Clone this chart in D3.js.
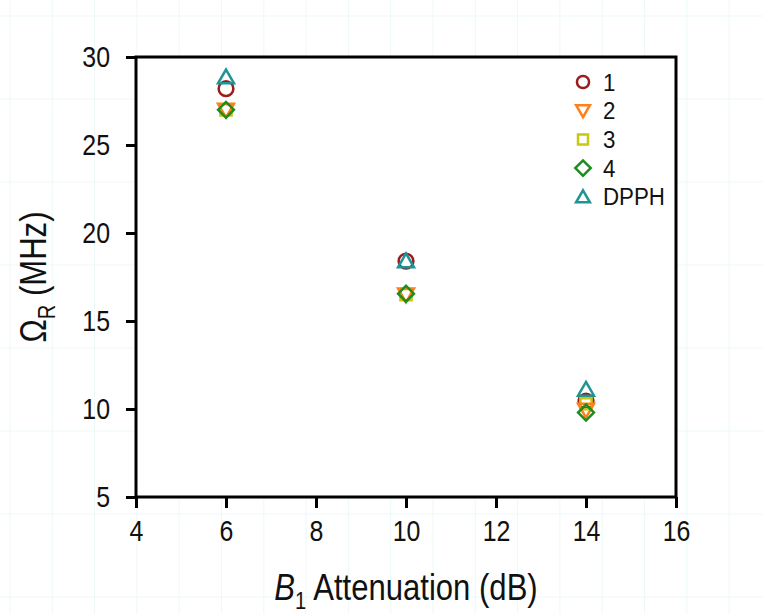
<!DOCTYPE html>
<html>
<head>
<meta charset="utf-8">
<script src="https://cdn.jsdelivr.net/npm/d3@7"></script>
<style>
  body { margin: 0; background: #fff; }
  svg { display: block; font-family: "Liberation Sans", Arial, sans-serif; }
</style>
</head>
<body>
<div id="chart"></div>
<script>
// Data
const attenuation = [6, 10, 14];
const seriesNames = ['1', '2', '3', '4', 'DPPH'];
const s1 = [28.2, 18.4, 10.45];
const s2 = [27.0, 16.5, 9.95];
const s3 = [27.0, 16.5, 10.3];
const s4 = [27.0, 16.55, 9.8];
const sDPPH = [28.85, 18.4, 11.1];
const xTicks = [4, 6, 8, 10, 12, 14, 16];
const yTicks = [5, 10, 15, 20, 25, 30];

const width = 763, height = 614;
const margin = { left: 136, right: 87, top: 57, bottom: 117 };
const narrow = 0.86; // the original lettering is a condensed sans

const svg = d3.select('#chart')
    .append('svg')
    .attr('width', width)
    .attr('height', height);

// faint page grid in the background
const bg = svg.append('g').attr('stroke', '#edf9f7').attr('stroke-width', 1);
d3.range(10, width, 42.3).forEach(x => {
    bg.append('line').attr('x1', x).attr('x2', x).attr('y1', 0).attr('y2', height);
});
d3.range(16, height, 83).forEach(y => {
    bg.append('line').attr('x1', 0).attr('x2', width).attr('y1', y).attr('y2', y);
});

const x = d3.scaleLinear().domain([4, 16]).range([margin.left, width - margin.right]);
const y = d3.scaleLinear().domain([5, 30]).range([height - margin.bottom, margin.top]);

// white plot area
svg.append('rect')
    .attr('x', x(4)).attr('y', y(30))
    .attr('width', x(16) - x(4)).attr('height', y(5) - y(30))
    .attr('fill', '#fff');

// axes
const xAxis = svg.append('g')
    .attr('transform', `translate(0,${y(5)})`)
    .call(d3.axisBottom(x).tickValues(xTicks).tickSize(11).tickPadding(12).tickFormat(d3.format('d')));
const yAxis = svg.append('g')
    .attr('transform', `translate(${x(4)},0)`)
    .call(d3.axisLeft(y).tickValues(yTicks).tickSize(10).tickPadding(16).tickFormat(d3.format('d')));

[xAxis, yAxis].forEach(a => {
    a.select('.domain').remove();
    a.selectAll('.tick line').attr('stroke', '#000').attr('stroke-width', 3);
    a.selectAll('.tick text')
        .attr('fill', '#111')
        .attr('font-size', 29)
        .attr('font-family', '"Liberation Sans", Arial, sans-serif')
        .attr('transform', `scale(${narrow},1)`);
});
yAxis.selectAll('.tick text').attr('x', -26 / narrow);

// frame
svg.append('rect')
    .attr('x', x(4)).attr('y', y(30))
    .attr('width', x(16) - x(4)).attr('height', y(5) - y(30))
    .attr('fill', 'none')
    .attr('stroke', '#000')
    .attr('stroke-width', 3);

// marker definitions
const styles = {
    '1':    { color: '#9a1c1c', shape: d3.symbolCircle, size: 170, rot: 0, leg: 0.68 },
    '2':    { color: '#ff8018', shape: d3.symbolTriangle, size: 110, rot: 180, leg: 0.75 },
    '3':    { color: '#c8c810', shape: d3.symbolSquare, size: 125, rot: 0, leg: 0.8 },
    '4':    { color: '#1e8c1e', shape: d3.symbolSquare, size: 125, rot: 45, leg: 0.95 },
    'DPPH': { color: '#1f9494', shape: d3.symbolTriangle, size: 110, rot: 0, leg: 0.75 }
};
const seriesValues = { '1': s1, '2': s2, '3': s3, '4': s4, 'DPPH': sDPPH };

// draw order: 1, DPPH over 1, then 3, 2, 4
const drawOrder = ['1', 'DPPH', '3', '2', '4'];
drawOrder.forEach(name => {
    const st = styles[name];
    const sym = d3.symbol().type(st.shape).size(st.size);
    svg.append('g').selectAll('path')
        .data(attenuation.map((a, i) => ({ a, v: seriesValues[name][i] })))
        .enter()
        .append('path')
        .attr('d', sym)
        .attr('transform', d => `translate(${x(d.a)},${y(d.v) + (name === 'DPPH' ? 1.5 : name === '2' ? -1.5 : 0)}) rotate(${st.rot})`)
        .attr('fill', 'none')
        .attr('stroke', st.color)
        .attr('stroke-width', 2.5);
});

// legend
const legend = svg.append('g').attr('transform', 'translate(583,82)');
seriesNames.forEach((name, i) => {
    const st = styles[name];
    const row = legend.append('g').attr('transform', `translate(0,${i * 28.7})`);
    row.append('path')
        .attr('d', d3.symbol().type(st.shape).size(st.size * st.leg))
        .attr('transform', `translate(0,${name === 'DPPH' ? 1.5 : name === '2' ? -1.5 : 0}) rotate(${st.rot})`)
        .attr('fill', 'none')
        .attr('stroke', st.color)
        .attr('stroke-width', 2.5);
    row.append('text')
        .attr('transform', 'translate(20,8.5) scale(0.93,1)')
        .attr('fill', '#111')
        .attr('font-size', 24)
        .text(name);
});

// axis titles
const xTitle = svg.append('text')
    .attr('transform', `translate(${(x(4) + x(16)) / 2},600) scale(0.84,1)`)
    .attr('text-anchor', 'middle')
    .attr('fill', '#111')
    .attr('font-size', 37);
xTitle.append('tspan').attr('font-style', 'italic').text('B');
xTitle.append('tspan').attr('dy', 9).attr('font-size', 24).text('1');
xTitle.append('tspan').attr('dy', -9).text(' Attenuation (dB)');

const yTitle = svg.append('text')
    .attr('transform', `translate(46,${(y(5) + y(30)) / 2}) rotate(-90) scale(0.84,1)`)
    .attr('text-anchor', 'middle')
    .attr('fill', '#111')
    .attr('font-size', 37);
yTitle.append('tspan').text('Ω');
yTitle.append('tspan').attr('dy', 9).attr('font-size', 24).text('R');
yTitle.append('tspan').attr('dy', -9).text(' (MHz)');
</script>
</body>
</html>
